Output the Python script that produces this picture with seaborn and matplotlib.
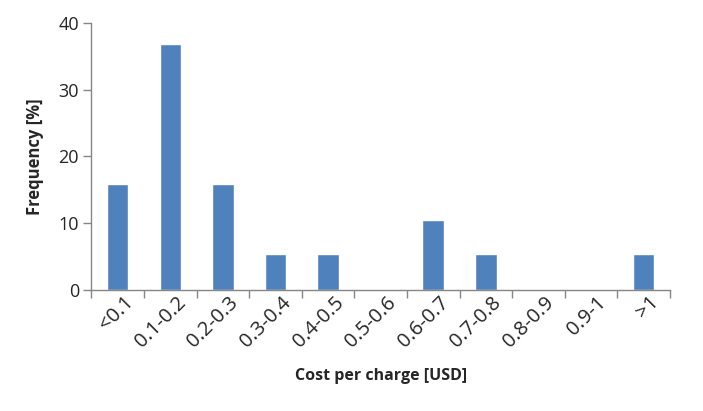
import pandas as pd
import matplotlib.pyplot as plt
import matplotlib.transforms as mtransforms
import seaborn as sns

# cost bins and share of charging events in each
cost_bins = ["<0.1", "0.1-0.2", "0.2-0.3", "0.3-0.4", "0.4-0.5", "0.5-0.6",
             "0.6-0.7", "0.7-0.8", "0.8-0.9", "0.9-1", ">1"]
frequency = [15.8, 36.8, 15.8, 5.3, 5.3, 0, 10.5, 5.3, 0, 0, 5.3]

df = pd.DataFrame({"bin": cost_bins, "freq": frequency})

sns.set_theme(style="white")
plt.rcParams['font.family'] = ['Open Sans', 'DejaVu Sans']

fig, ax = plt.subplots(figsize=(7.03, 4.11), dpi=100)
sns.barplot(data=df, x="bin", y="freq", color="#4F81BD", saturation=1,
            width=0.41, ax=ax)

ax.set_xlim(-0.5, len(cost_bins) - 0.5)
ax.set_ylim(0, 40)
ax.set_yticks([0, 10, 20, 30, 40])

# Excel style: tick marks between categories, labels at centers
ax.set_xticks([i - 0.5 for i in range(len(cost_bins) + 1)], minor=True)
ax.tick_params(axis="x", which="major", bottom=True, length=0, labelsize=14.5,
               labelcolor="#262626", pad=2)
ax.tick_params(axis="x", which="minor", bottom=True, length=6, width=1,
               color="#868686", direction="out")
ax.tick_params(axis="y", left=True, length=6, width=1, color="#868686", direction="out",
               labelsize=13, labelcolor="#262626", pad=3)
offset = mtransforms.ScaledTranslation(4 / 72, 0, fig.dpi_scale_trans)
for lbl in ax.get_xticklabels():
    lbl.set_rotation(45)
    lbl.set_ha("right")
    lbl.set_rotation_mode("anchor")
    lbl.set_transform(lbl.get_transform() + offset)

for side in ["top", "right"]:
    ax.spines[side].set_visible(False)
for side in ["left", "bottom"]:
    ax.spines[side].set_color("#868686")
    ax.spines[side].set_linewidth(1)

ax.set_xlabel("Cost per charge [USD]", fontsize=11.5, fontweight="bold", labelpad=12)
ax.set_ylabel("Frequency [%]", fontsize=12, fontweight="bold", labelpad=10)

fig.subplots_adjust(left=0.13, right=0.953, top=0.944, bottom=0.295)
fig.savefig("out.png", dpi=100)
